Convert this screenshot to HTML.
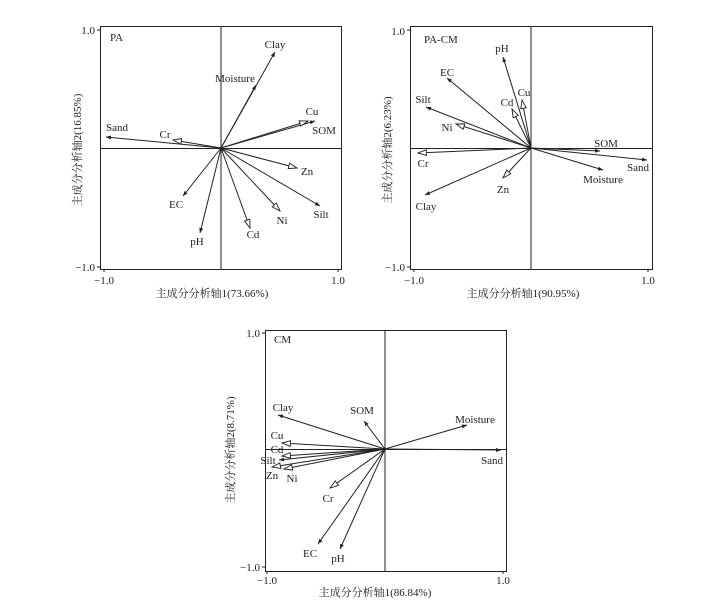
<!DOCTYPE html>
<html><head><meta charset="utf-8"><style>
html,body{margin:0;padding:0;background:#fff;}
text{font-family:"Liberation Serif","Noto Serif CJK SC",serif;font-size:11px;fill:#222;}
.ax{stroke:#222;stroke-width:1;fill:none;}
.v{stroke:#222;stroke-width:1;}
</style></head><body>
<svg width="705" height="604" viewBox="0 0 705 604" xmlns="http://www.w3.org/2000/svg">
<defs>
<marker id="f" viewBox="0 0 10 10" refX="10" refY="5" markerWidth="5" markerHeight="5" orient="auto"><path d="M0,1 L10,5 L0,9 z" fill="#222"/></marker>
<marker id="h" viewBox="0 0 14 10" refX="13" refY="5" markerWidth="10" markerHeight="7" orient="auto" markerUnits="userSpaceOnUse"><path d="M1,1 L13,5 L1,9 z" fill="#fff" stroke="#222" stroke-width="1.3"/></marker>
</defs>
<!-- Panel 1 -->
<g>
<rect class="ax" x="100.5" y="26.5" width="241" height="243"/>
<line class="ax" x1="221" y1="26" x2="221" y2="269"/><line class="ax" x1="100" y1="148.5" x2="341" y2="148.5"/>
<line class="ax" x1="97" y1="30" x2="100" y2="30"/><line class="ax" x1="97" y1="267" x2="100" y2="267"/>
<line class="ax" x1="104" y1="269" x2="104" y2="272"/><line class="ax" x1="338" y1="269" x2="338" y2="272"/>
<text x="95" y="34" text-anchor="end">1.0</text><text x="95" y="271" text-anchor="end">−1.0</text>
<text x="104" y="284" text-anchor="middle">−1.0</text><text x="338" y="284" text-anchor="middle">1.0</text>
<text x="212" y="297" text-anchor="middle">主成分分析轴1(73.66%)</text>
<text transform="translate(81,150) rotate(-90)" text-anchor="middle">主成分分析轴2(16.85%)</text>
<text x="110" y="41">PA</text>
<g class="v" marker-end="url(#f)">
<line x1="221" y1="148" x2="275" y2="52"/><line x1="221" y1="148" x2="256" y2="85"/>
<line x1="221" y1="148" x2="315" y2="121"/><line x1="221" y1="148" x2="106" y2="137"/>
<line x1="221" y1="148" x2="320" y2="206"/><line x1="221" y1="148" x2="200" y2="233"/>
<line x1="221" y1="148" x2="183" y2="196"/>
</g>
<g class="v" marker-end="url(#h)">
<line x1="221" y1="148" x2="308" y2="121"/><line x1="221" y1="148" x2="173" y2="140"/>
<line x1="221" y1="148" x2="297" y2="168"/><line x1="221" y1="148" x2="280" y2="211"/>
<line x1="221" y1="148" x2="250" y2="228"/>
</g>
<g text-anchor="middle">
<text x="275" y="48">Clay</text><text x="235" y="82">Moisture</text><text x="312" y="115">Cu</text>
<text x="324" y="134">SOM</text><text x="117" y="131">Sand</text><text x="165" y="138">Cr</text>
<text x="307" y="175">Zn</text><text x="321" y="218">Silt</text><text x="282" y="224">Ni</text>
<text x="253" y="238">Cd</text><text x="197" y="245">pH</text><text x="176" y="208">EC</text>
</g>
</g>
<!-- Panel 2 -->
<g>
<rect class="ax" x="410.5" y="26.5" width="242" height="243"/>
<line class="ax" x1="531" y1="26" x2="531" y2="269"/><line class="ax" x1="410" y1="148.5" x2="652" y2="148.5"/>
<line class="ax" x1="407" y1="30" x2="410" y2="30"/><line class="ax" x1="407" y1="267" x2="410" y2="267"/>
<line class="ax" x1="414" y1="269" x2="414" y2="272"/><line class="ax" x1="648" y1="269" x2="648" y2="272"/>
<text x="405" y="35" text-anchor="end">1.0</text><text x="405" y="271" text-anchor="end">−1.0</text>
<text x="414" y="284" text-anchor="middle">−1.0</text><text x="648" y="284" text-anchor="middle">1.0</text>
<text x="523" y="297" text-anchor="middle">主成分分析轴1(90.95%)</text>
<text transform="translate(391,150) rotate(-90)" text-anchor="middle">主成分分析轴2(6.23%)</text>
<text x="424" y="43">PA-CM</text>
<g class="v" marker-end="url(#f)">
<line x1="531" y1="148" x2="503" y2="57"/><line x1="531" y1="148" x2="447" y2="78"/>
<line x1="531" y1="148" x2="426" y2="107"/><line x1="531" y1="148" x2="600" y2="151"/>
<line x1="531" y1="148" x2="647" y2="160"/><line x1="531" y1="148" x2="603" y2="170"/>
<line x1="531" y1="148" x2="425" y2="195"/>
</g>
<g class="v" marker-end="url(#h)">
<line x1="531" y1="148" x2="522" y2="100"/><line x1="531" y1="148" x2="512" y2="109"/>
<line x1="531" y1="148" x2="456" y2="124"/><line x1="531" y1="148" x2="418" y2="153"/>
<line x1="531" y1="148" x2="503" y2="178"/>
</g>
<g text-anchor="middle">
<text x="502" y="52">pH</text><text x="447" y="76">EC</text><text x="524" y="96">Cu</text>
<text x="507" y="106">Cd</text><text x="423" y="103">Silt</text><text x="447" y="131">Ni</text>
<text x="606" y="147">SOM</text><text x="638" y="171">Sand</text><text x="603" y="183">Moisture</text>
<text x="423" y="167">Cr</text><text x="503" y="193">Zn</text><text x="426" y="210">Clay</text>
</g>
</g>
<!-- Panel 3 -->
<g>
<rect class="ax" x="265.5" y="330.5" width="241" height="241"/>
<line class="ax" x1="385" y1="330" x2="385" y2="571"/><line class="ax" x1="265" y1="449.5" x2="506" y2="449.5"/>
<line class="ax" x1="262" y1="333" x2="265" y2="333"/><line class="ax" x1="262" y1="567" x2="265" y2="567"/>
<line class="ax" x1="267" y1="571" x2="267" y2="574"/><line class="ax" x1="503" y1="571" x2="503" y2="574"/>
<text x="260" y="337" text-anchor="end">1.0</text><text x="260" y="571" text-anchor="end">−1.0</text>
<text x="267" y="584" text-anchor="middle">−1.0</text><text x="503" y="584" text-anchor="middle">1.0</text>
<text x="375" y="596" text-anchor="middle">主成分分析轴1(86.84%)</text>
<text transform="translate(234,450) rotate(-90)" text-anchor="middle">主成分分析轴2(8.71%)</text>
<text x="274" y="343">CM</text>
<g class="v" marker-end="url(#f)">
<line x1="385" y1="449" x2="278" y2="415"/><line x1="385" y1="449" x2="364" y2="421"/>
<line x1="385" y1="449" x2="467" y2="425"/><line x1="385" y1="449" x2="501" y2="450"/>
<line x1="385" y1="449" x2="279" y2="460"/><line x1="385" y1="449" x2="318" y2="544"/>
<line x1="385" y1="449" x2="340" y2="549"/>
</g>
<g class="v" marker-end="url(#h)">
<line x1="385" y1="449" x2="282" y2="443"/><line x1="385" y1="449" x2="282" y2="456"/>
<line x1="385" y1="449" x2="272" y2="467"/><line x1="385" y1="449" x2="284" y2="469"/>
<line x1="385" y1="449" x2="330" y2="488"/>
</g>
<g text-anchor="middle">
<text x="283" y="411">Clay</text><text x="362" y="414">SOM</text><text x="475" y="423">Moisture</text>
<text x="492" y="464">Sand</text><text x="277" y="439">Cu</text><text x="277" y="453">Cd</text>
<text x="268" y="464">Silt</text><text x="272" y="479">Zn</text><text x="292" y="482">Ni</text>
<text x="328" y="502">Cr</text><text x="310" y="557">EC</text><text x="338" y="562">pH</text>
</g>
</g>
</svg>
</body></html>
